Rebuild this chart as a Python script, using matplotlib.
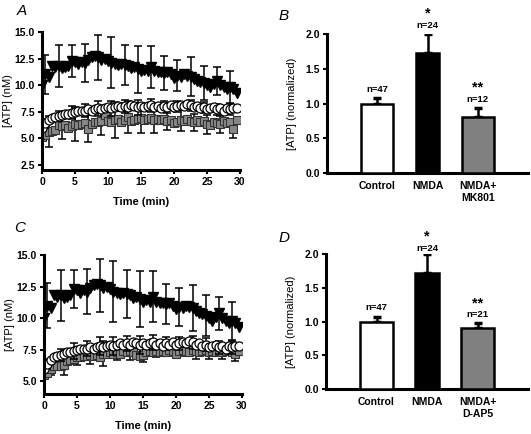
import numpy as np
import matplotlib
matplotlib.use("Agg")
import matplotlib.pyplot as plt

plt.rcParams['font.family'] = ['Liberation Sans', 'DejaVu Sans']
plt.rcParams['font.weight'] = 'bold'

# ---------------- data ----------------
time_min = np.arange(60) * 0.5

nmda = [10.0, 11.0, 10.8, 11.8, 11.7, 11.8, 11.6, 11.7, 11.8, 12.3,
        12.2, 12.0, 12.2, 12.1, 12.4, 12.6, 12.7, 12.6, 12.4, 12.5,
        12.3, 12.1, 12.0, 11.9, 12.0, 11.9, 11.8, 11.6, 11.7, 11.5,
        11.3, 11.4, 11.3, 11.7, 11.3, 11.2, 11.2, 11.1, 11.2, 11.0,
        10.7, 10.9, 10.8, 11.0, 10.9, 10.8, 10.6, 10.4, 10.3, 10.2,
        10.0, 9.8, 10.1, 10.4, 10.0, 9.8, 9.6, 9.8, 9.6, 9.3]

control = [6.0, 6.4, 6.7, 6.9, 7.0, 7.1, 7.2, 7.3, 7.3, 7.4,
           7.5, 7.6, 7.6, 7.6, 7.7, 7.6, 7.7, 7.8, 7.7, 7.8,
           7.9, 7.8, 7.9, 8.0, 7.9, 8.0, 7.9, 8.1, 8.0, 7.9,
           8.0, 7.9, 8.0, 8.1, 7.9, 8.0, 7.8, 8.0, 7.9, 8.1,
           7.9, 8.0, 8.1, 8.0, 8.2, 8.1, 7.9, 8.0, 7.8, 7.9,
           7.7, 7.8, 7.9, 7.7, 7.8, 7.6, 7.8, 7.7, 7.8, 7.8]

nmda_mk801 = [5.1, 5.3, 5.6, 5.7, 5.8, 6.2, 6.1, 6.2, 6.0, 6.1,
              6.3, 6.2, 6.3, 6.4, 5.9, 6.3, 6.5, 6.5, 6.6, 7.2,
              6.6, 6.5, 6.7, 6.8, 6.5, 6.7, 7.0, 6.6, 6.7, 6.8,
              6.9, 6.7, 6.8, 6.9, 6.7, 6.8, 6.7, 6.8, 6.6, 6.7,
              6.4, 6.5, 6.7, 6.6, 6.8, 6.6, 6.5, 6.7, 6.5, 6.6,
              6.3, 6.2, 6.5, 6.4, 6.3, 6.6, 6.4, 6.5, 5.9, 6.7]

nmda_dap5 = [5.5, 5.7, 6.0, 6.2, 6.2, 6.2, 6.3, 6.6, 6.7, 6.8,
             6.9, 6.9, 7.0, 7.0, 7.1, 7.0, 7.1, 6.9, 7.2, 7.2,
             7.3, 7.2, 7.3, 7.2, 7.4, 7.3, 7.4, 7.3, 7.1, 7.0,
             7.1, 7.3, 7.4, 7.3, 7.4, 7.3, 7.4, 7.3, 7.5, 7.4,
             7.2, 7.4, 7.5, 7.4, 7.3, 7.5, 7.4, 7.3, 7.4, 7.5,
             7.3, 7.4, 7.3, 7.4, 7.3, 7.4, 7.5, 7.3, 7.2, 7.4]

# error bars shown every 2 min
err_idx_a = list(range(1, 60, 4))   # t = 0.5, 2.5, ...
err_idx_b = list(range(2, 60, 4))   # t = 1, 3, ...
nmda_err = [1.8, 2.0, 1.5, 1.8, 2.1, 2.4, 1.9, 2.2, 2.0, 1.6, 1.5, 1.8, 1.6, 1.3, 1.5]
control_err = [0.4, 0.5, 0.6, 0.6, 0.7, 0.7, 0.6, 0.7, 0.6, 0.5, 0.5, 0.5, 0.5, 0.5, 0.5]
mk801_err = [1.45, 1.2, 1.6, 1.3, 1.3, 1.7, 1.5, 1.4, 1.2, 0.8, 1.0, 0.8, 0.9, 0.8, 0.9]
dap5_err = [0.5, 0.8, 0.6, 0.7, 1.0, 0.6, 0.7, 0.6, 0.5, 0.5, 0.5, 0.6, 0.5, 0.5, 0.6]

bar_categories_b = ['Control', 'NMDA', 'NMDA+\nMK801']
bar_values_b = [1.0, 1.72, 0.81]
bar_err_b = [0.08, 0.28, 0.125]
bar_n_b = ['n=47', 'n=24', 'n=12']
bar_sig_b = ['', '*', '**']

bar_categories_d = ['Control', 'NMDA', 'NMDA+\nD-AP5']
bar_values_d = [1.0, 1.72, 0.90]
bar_err_d = [0.07, 0.28, 0.08]
bar_n_d = ['n=47', 'n=24', 'n=21']
bar_sig_d = ['', '*', '**']

# ---------------- figure ----------------
fig = plt.figure(figsize=(5.31, 4.34), dpi=100)
W, H = 531, 434


def ax_px(l, r, t, b):
    return fig.add_axes([l / W, 1 - b / H, (r - l) / W, (b - t) / H])


def style(ax):
    for s in ['top', 'right']:
        ax.spines[s].set_visible(False)
    for s in ['left', 'bottom']:
        ax.spines[s].set_linewidth(2.2)
    ax.tick_params(width=1.5, length=3, labelsize=7.5, pad=2)
    for lab in ax.get_xticklabels() + ax.get_yticklabels():
        lab.set_fontweight('bold')


def line_panel(ax, treat, treat_err, ylo, yticks):
    t = np.asarray(time_min)
    ta = t[err_idx_a]
    tb = t[err_idx_b]
    ax.errorbar(tb, np.asarray(treat)[err_idx_b], yerr=treat_err, fmt='none',
                ecolor='black', elinewidth=1.1, capsize=3, capthick=1.1, zorder=2)
    ax.plot(t, treat, 's', ms=6.3, mfc='#888888', mec='#333333', mew=0.8, zorder=3)
    ax.errorbar(ta, np.asarray(control)[err_idx_a], yerr=control_err, fmt='none',
                ecolor='black', elinewidth=1.1, capsize=3, capthick=1.1, zorder=4)
    ax.plot(t, control, 'o', ms=6.5, mfc='white', mec='black', mew=0.9, zorder=5)
    ax.errorbar(ta, np.asarray(nmda)[err_idx_a], yerr=nmda_err, fmt='none',
                ecolor='black', elinewidth=1.1, capsize=3, capthick=1.1, zorder=6)
    ax.plot(t, nmda, 'v', ms=6.5, mfc='black', mec='black', zorder=7)
    ax.set_xlim(0, 30)
    ax.set_ylim(ylo, 15)
    ax.set_xticks([0, 5, 10, 15, 20, 25, 30])
    ax.set_yticks(yticks)
    ax.set_yticklabels([f'{v:.1f}' for v in yticks])
    ax.set_xlabel('Time (min)', fontsize=8, fontweight='bold', labelpad=7)
    ax.set_ylabel('[ATP] (nM)', fontsize=8, fontweight='normal', labelpad=1)
    style(ax)
    for s in ax.spines.values():
        s.set_zorder(10)


def bar_panel(ax, cats, vals, errs, ns, sigs, n_y, sig_y):
    x = np.arange(1, len(cats) + 1)
    widths = [0.64, 0.46, 0.64]
    colors = ['white', 'black', '#808080']
    ax.bar(x, vals, width=widths, color=colors, edgecolor='black', linewidth=1.8, zorder=3)
    ax.errorbar(x, vals, yerr=[np.zeros(len(vals)), errs], fmt='none', ecolor='black',
                elinewidth=1.8, capsize=3, capthick=2.5, zorder=2)
    for xi, n, ny in zip(x, ns, n_y):
        ax.text(xi, ny, n, ha='center', va='baseline', fontsize=6.8, fontweight='bold', clip_on=False)
    for xi, s, sy in zip(x, sigs, sig_y):
        if s:
            ax.text(xi, sy, s, ha='center', va='baseline', fontsize=10.5, fontweight='bold', clip_on=False)
    ax.set_xlim(0, 4)
    ax.set_ylim(0, 2.0)
    ax.set_yticks([0.0, 0.5, 1.0, 1.5, 2.0])
    ax.set_yticklabels(['0.0', '0.5', '1.0', '1.5', '2.0'])
    ax.set_xticks(x)
    ax.set_xticklabels(cats, fontsize=7.5, fontweight='bold')
    ax.set_ylabel('[ATP] (normalized)', fontsize=8, fontweight='normal', labelpad=6)
    style(ax)
    ax.tick_params(axis='x', length=0, pad=6)


axA = ax_px(42, 240, 32, 170)
line_panel(axA, nmda_mk801, mk801_err, 2.0, [2.5, 5.0, 7.5, 10.0, 12.5, 15.0])

axC = ax_px(44, 242, 255, 394)
line_panel(axC, nmda_dap5, dap5_err, 4.0, [5.0, 7.5, 10.0, 12.5, 15.0])

axB = ax_px(327, 528, 34, 173)
bar_panel(axB, bar_categories_b, bar_values_b, bar_err_b, bar_n_b, bar_sig_b,
          n_y=[1.16, 2.08, 1.02], sig_y=[0, 2.235, 1.175])

axD = ax_px(326, 528, 254, 389)
bar_panel(axD, bar_categories_d, bar_values_d, bar_err_d, bar_n_d, bar_sig_d,
          n_y=[1.17, 2.05, 1.06], sig_y=[0, 2.205, 1.21])

for lbl, (px, py) in zip('ABCD', [(22, 11), (284, 16), (20, 228), (284, 238)]):
    fig.text(px / W, 1 - py / H, lbl, fontsize=11, style='italic', fontweight='normal',
             ha='center', va='center')

fig.savefig('out.png', dpi=100)
